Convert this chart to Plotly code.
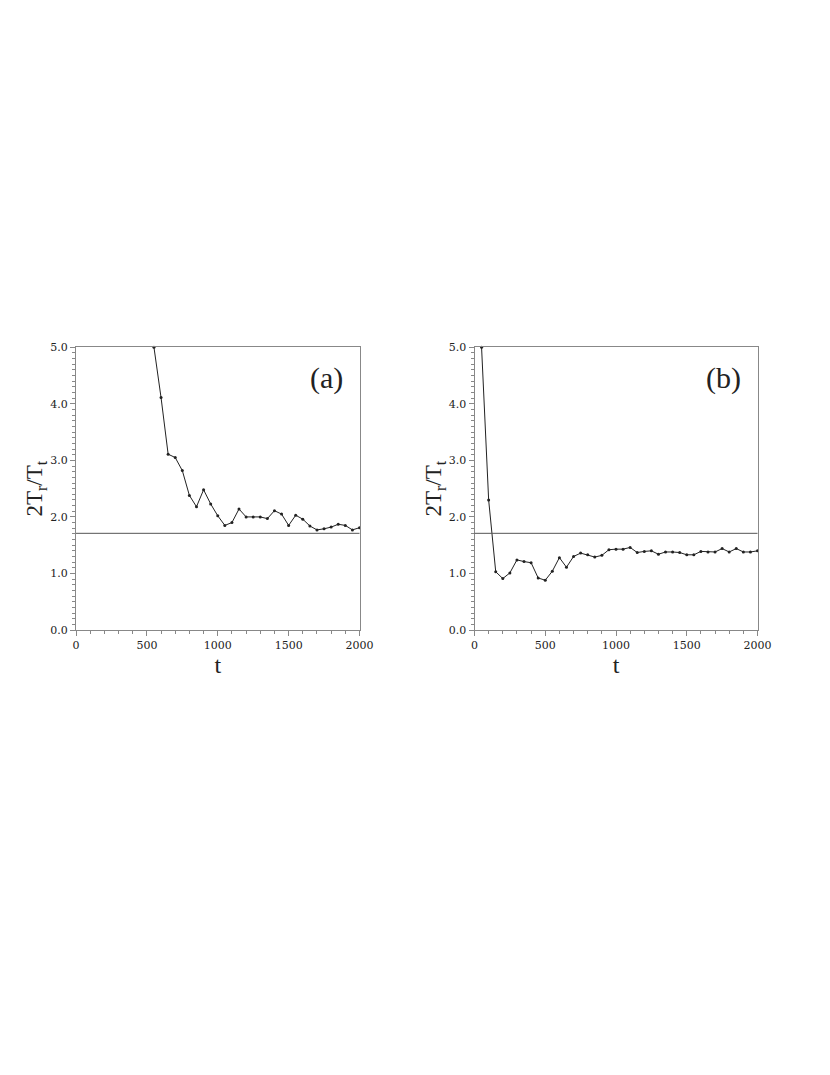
import plotly.graph_objects as go

# panel (a)
t_a = [550, 600, 650, 700, 750, 800, 850, 900, 950, 1000, 1050, 1100, 1150, 1200,
       1250, 1300, 1350, 1400, 1450, 1500, 1550, 1600, 1650, 1700, 1750, 1800,
       1850, 1900, 1950, 2000]
ratio_a = [5.0, 4.11, 3.11, 3.05, 2.82, 2.38, 2.18, 2.48, 2.23, 2.02, 1.85, 1.90, 2.14,
           2.00, 2.00, 2.00, 1.97, 2.11, 2.05, 1.85, 2.03, 1.96, 1.84, 1.77, 1.79, 1.82,
           1.87, 1.85, 1.77, 1.81]

# panel (b)
t_b = [50, 100, 150, 200, 250, 300, 350, 400, 450, 500, 550, 600, 650, 700, 750, 800,
       850, 900, 950, 1000, 1050, 1100, 1150, 1200, 1250, 1300, 1350, 1400, 1450,
       1500, 1550, 1600, 1650, 1700, 1750, 1800, 1850, 1900, 1950, 2000]
ratio_b = [5.0, 2.30, 1.03, 0.91, 1.01, 1.24, 1.21, 1.19, 0.92, 0.88, 1.04, 1.28, 1.11,
           1.30, 1.36, 1.33, 1.29, 1.32, 1.42, 1.43, 1.43, 1.46, 1.37, 1.39, 1.40, 1.34,
           1.38, 1.38, 1.37, 1.33, 1.33, 1.39, 1.38, 1.38, 1.44, 1.38, 1.44, 1.38, 1.38,
           1.40]

ref_level = 1.71
panel_labels = ["(a)", "(b)"]
x_ticks = [0, 500, 1000, 1500, 2000]
y_ticks = [0.0, 1.0, 2.0, 3.0, 4.0, 5.0]

W, H = 830, 1075
off = 8  # page body margin shifts the figure
axis_col = "#888888"
serif = "Liberation Serif, Times New Roman, serif"
tick_font = dict(family="DejaVu Serif, serif", size=11, color="#222222")

fig = go.Figure()

for xa, ya, xs, ys in [("x", "y", t_a, ratio_a), ("x2", "y2", t_b, ratio_b)]:
    fig.add_trace(go.Scatter(x=xs, y=ys, mode="lines+markers", xaxis=xa, yaxis=ya,
                             line=dict(color="#222222", width=1),
                             marker=dict(color="#222222", size=3), showlegend=False,
                             cliponaxis=False))

x_dom = [[(76 - off) / W, (359.5 - off) / W], [(474.5 - off) / W, (757.5 - off) / W]]
y_dom = [1 - (630 - off) / H, 1 - (347.3 - off) / H]

common_x = dict(range=[0, 2000], tickvals=x_ticks, ticks="outside", ticklen=5,
                tickcolor=axis_col, showline=True, linecolor=axis_col, linewidth=1,
                mirror=True, showgrid=False, zeroline=False, tickfont=tick_font,
                automargin=False,
                minor=dict(dtick=100, ticks="outside", ticklen=3, tickcolor=axis_col),
                title=dict(text="t", font=dict(family=serif, size=24, color="#222222"),
                           standoff=0))
common_y = dict(range=[0, 5], tickvals=y_ticks, tickformat=".1f", ticks="outside",
                ticklen=5, tickcolor=axis_col, showline=True, linecolor=axis_col,
                linewidth=1, mirror=True, showgrid=False, zeroline=False,
                tickfont=tick_font, automargin=False,
                minor=dict(dtick=0.1, ticks="outside", ticklen=3, tickcolor=axis_col),
                title=dict(text="2T<sub>r</sub>/T<sub>t</sub>",
                           font=dict(family=serif, size=23, color="#222222"),
                           standoff=0))

fig.update_layout(
    width=W, height=H,
    margin=dict(l=0, r=0, t=0, b=0),
    paper_bgcolor="white", plot_bgcolor="white",
    xaxis=dict(common_x, domain=x_dom[0], anchor="y"),
    yaxis=dict(common_y, domain=y_dom, anchor="x"),
    xaxis2=dict(common_x, domain=x_dom[1], anchor="y2"),
    yaxis2=dict(common_y, domain=y_dom, anchor="x2"),
)

for i, xr in enumerate(["x", "x2"]):
    yr = "y" if i == 0 else "y2"
    fig.add_shape(type="line", xref=f"{xr} domain", yref=yr, x0=0, x1=1,
                  y0=ref_level, y1=ref_level, line=dict(color="#555555", width=1))
    fig.add_annotation(xref=f"{xr} domain", yref=f"{yr} domain", x=0.95, y=0.89,
                       text=panel_labels[i], showarrow=False, xanchor="right",
                       yanchor="middle",
                       font=dict(family=serif, size=30, color="#222222"))

fig.write_html("out.html")
